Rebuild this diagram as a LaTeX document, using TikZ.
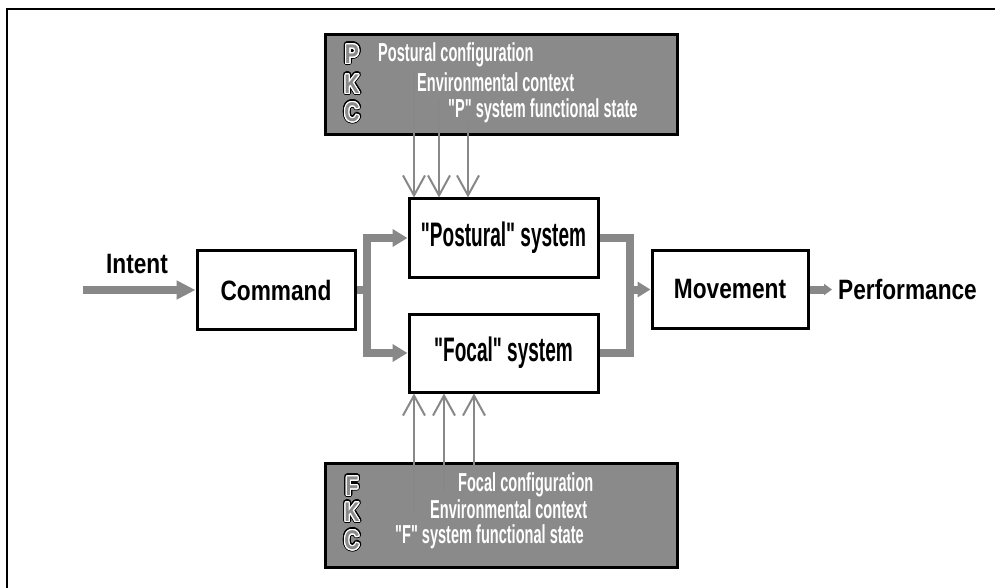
\documentclass[tikz,border=0pt]{standalone}
\usepackage{fontspec}
\usepackage{contour}
\usetikzlibrary{arrows.meta}
\setmainfont{Liberation Sans}
\newfontfamily\mainf[FakeStretch=0.81]{Liberation Sans}
\newfontfamily\sysf[FakeStretch=0.56]{Liberation Sans}
\newfontfamily\ctxf[FakeStretch=0.56]{Liberation Sans}
\newfontfamily\letf[FakeStretch=0.78]{Liberation Sans}
\definecolor{boxgray}{RGB}{138,138,138}
\definecolor{linegray}{RGB}{136,136,136}
\contournumber{24}
\newcommand{\outletter}[3]{%
  \node[inner sep=0] at (#1,#2) {\letf\bfseries\fontsize{27bp}{29bp}\selectfont\contourlength{2.4bp}\contour{black}{\textcolor{black}{#3}}};
  \node[inner sep=0] at (#1,#2) {\letf\bfseries\fontsize{27bp}{29bp}\selectfont\contourlength{1.1bp}\contour{white}{\textcolor{boxgray}{#3}}};
}
\tikzset{
  blk/.style={draw=black, line width=3bp, fill=white, inner sep=0, minimum width=#1},
  kbox/.style={draw=black, line width=3bp, fill=boxgray, inner sep=0},
  fat/.style={draw=linegray, line width=8bp},
  fatarrow/.style={fat, -{Triangle[length=15bp,width=17bp]}},
  thinarrow/.style={draw=linegray, line width=2bp, -{Straight Barb[length=20bp,width=22bp]}},
  lab/.style={font={\mainf\bfseries\fontsize{28bp}{32bp}\selectfont}, inner sep=0},
  syslab/.style={font={\sysf\bfseries\fontsize{34bp}{38bp}\selectfont}},
  ctx/.style={font={\ctxf\bfseries\fontsize{26bp}{28bp}\selectfont}, text=white, anchor=base west, inner sep=0},
}
\begin{document}
\begin{tikzpicture}[x=1bp,y=-1bp]
\useasboundingbox (0,0) rectangle (995,588);
\fill[white] (0,0) rectangle (995,588);
% outer frame
\draw[line width=2.6bp, line cap=rect] (995,9) -- (7,9) -- (7,588);

% context boxes
\node[kbox, minimum width=352bp, minimum height=100bp] (pkc) at (501,85) {};
\node[kbox, minimum width=352bp, minimum height=104bp] (fkc) at (501,515) {};

% main boxes
\node[blk=158bp, minimum height=78bp, lab] (cmd) at (276,290) {Command};
\node[blk=189bp, minimum height=78bp, syslab] (post) at (503.5,238) {"Postural" system};
\node[blk=189bp, minimum height=78bp, syslab] (foc) at (503.5,353) {"Focal" system};
\node[blk=156bp, minimum height=77bp, lab] (mov) at (730,289.5) {Movement};

% labels
\node[lab] (intent) at (137,264) {Intent};
\node[lab, anchor=west] (perf) at (838,289.5) {Performance};

% PKC texts
\node[ctx] (pc) at (378,62) {Postural configuration};
\node[ctx] (pe) at (417,92) {Environmental context};
\node[ctx] (ps) at (448,118) {"P" system functional state};
\outletter{352}{55}{P}
\outletter{352}{85}{K}
\outletter{352}{113}{C}

% FKC texts
\node[ctx] (fc) at (458,491) {Focal configuration};
\node[ctx] (fe) at (430,518) {Environmental context};
\node[ctx] (fs) at (395,543) {"F" system functional state};
\outletter{352}{487}{F}
\outletter{352}{513}{K}
\outletter{352}{541}{C}

% thick connectors
\coordinate (in) at (83,290);
\coordinate (split) at (367,290);
\coordinate (merge) at (630,289.5);
\coordinate (out) at (832,289.5);
\draw[fatarrow, -{Triangle[length=19bp,width=18bp]}] (in) -- (cmd.west);
\draw[fat] (cmd.east) -- (split);
\draw[fatarrow] (split) |- (post.west);
\draw[fatarrow] (split) |- (foc.west);
\draw[fat] (post.east) -| (merge);
\draw[fat] (foc.east) -| (merge);
\draw[fatarrow, -{Triangle[length=13bp,width=15bp]}] (merge) -- (mov.west);
\draw[fat, -{Triangle[length=8bp,width=11bp]}] (mov.east) -- (out);

% thin arrows top
\coordinate (t1) at (414,70);
\coordinate (t2) at (439,100);
\coordinate (t3) at (468,122);
\draw[thinarrow] (t1) -- (t1 |- post.north);
\draw[thinarrow] (t2) -- (t2 |- post.north);
\draw[thinarrow] (t3) -- (t3 |- post.north);

% thin arrows bottom
\coordinate (b1) at (414,515);
\coordinate (b2) at (444,492);
\coordinate (b3) at (474,466);
\draw[thinarrow] (b1) -- (b1 |- foc.south);
\draw[thinarrow] (b2) -- (b2 |- foc.south);
\draw[thinarrow] (b3) -- (b3 |- foc.south);
\end{tikzpicture}
\end{document}
